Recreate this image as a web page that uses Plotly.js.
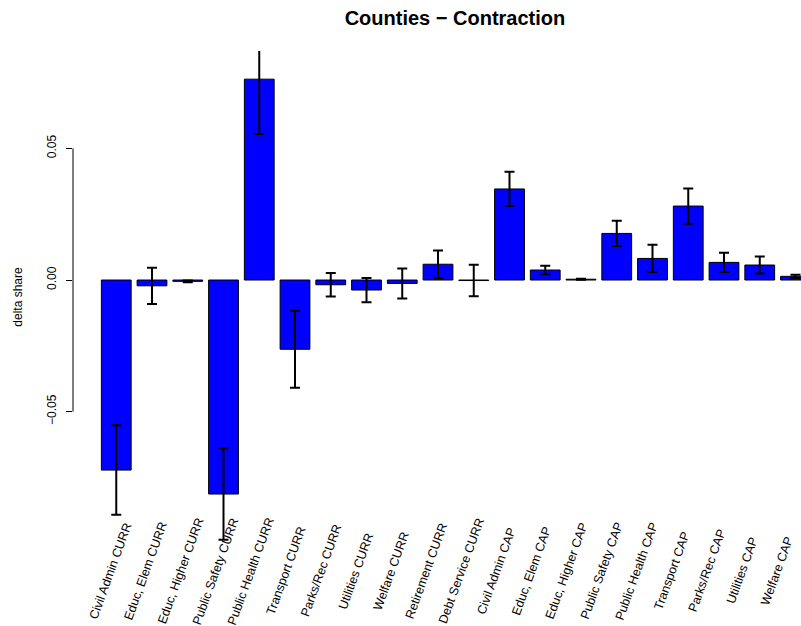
<!DOCTYPE html>
<html>
<head>
<meta charset="utf-8">
<script src="https://cdn.plot.ly/plotly-3.0.1.min.js"></script>
<style>
  html, body { margin: 0; padding: 0; background: #ffffff; }
  #chart { width: 801px; height: 626px; }
</style>
</head>
<body>
<div id="chart"></div>
<script>
// Spending categories (current and capital accounts)
const categories = [
  "Civil Admin CURR", "Educ, Elem CURR", "Educ, Higher CURR", "Public Safety CURR",
  "Public Health CURR", "Transport CURR", "Parks/Rec CURR", "Utilities CURR",
  "Welfare CURR", "Retirement CURR", "Debt Service CURR",
  "Civil Admin CAP", "Educ, Elem CAP", "Educ, Higher CAP", "Public Safety CAP",
  "Public Health CAP", "Transport CAP", "Parks/Rec CAP", "Utilities CAP", "Welfare CAP"
];

// Change in budget share during contraction
const deltaShare = [
  -0.0722, -0.0022, -0.0005, -0.0813, 0.0763, -0.0263, -0.0018, -0.0038,
  -0.0013, 0.0060, -0.0002,
  0.0346, 0.0038, 0.0003, 0.0177, 0.0082, 0.0281, 0.0067, 0.0057, 0.0014
];

// Half-width of the interval drawn around each bar
const errorHalf = [
  0.0170, 0.0069, 0.0003, 0.0174, 0.0208, 0.0146, 0.0045, 0.0046,
  0.0057, 0.0052, 0.0060,
  0.0065, 0.0016, 0.0002, 0.0048, 0.0052, 0.0067, 0.0037, 0.0032, 0.0006
];

// Y axis tick values
const yTicks = [-0.05, 0.00, 0.05];

const FONT = "Liberation Sans, Arial, Helvetica, sans-serif";

const trace = {
  type: "bar",
  x: categories,
  y: deltaShare,
  marker: { color: "#0000ff", line: { color: "#000000", width: 1 } },
  error_y: {
    type: "data",
    array: errorHalf,
    arrayminus: errorHalf,
    symmetric: false,
    color: "#000000",
    thickness: 2,
    width: 5
  },
  hoverinfo: "x+y"
};

// Rotated category labels under the bars
const labelAnnotations = categories.map((name, i) => ({
  x: name,
  xref: "x",
  y: 0,
  yref: "paper",
  text: name,
  showarrow: false,
  textangle: -70,
  xanchor: "center",
  yanchor: "middle",
  xshift: -5.6 - 0.67 * i,
  yshift: -28,
  font: { family: FONT, size: 12.5, color: "#000000" }
}));

const layout = {
  width: 801,
  height: 626,
  margin: { l: 73, r: 0, t: 51, b: 83, pad: 0 },
  paper_bgcolor: "#ffffff",
  plot_bgcolor: "#ffffff",
  showlegend: false,
  bargap: 1 - 1 / 1.2,
  title: {
    text: "<b>Counties \u2212 Contraction</b>",
    font: { family: FONT, size: 20, color: "#000000" },
    x: 0.568,
    xref: "container",
    xanchor: "center",
    y: 1 - 18 / 626,
    yref: "container",
    yanchor: "middle"
  },
  xaxis: {
    type: "category",
    range: [-1.21, 19.154],
    showticklabels: false,
    showgrid: false,
    zeroline: false,
    showline: false,
    ticks: "",
    fixedrange: true
  },
  yaxis: {
    range: [-0.0999, 0.0870],
    tickmode: "array",
    tickvals: yTicks,
    tickformat: ".2f",
    tickangle: -90,
    ticks: "outside",
    ticklen: 6,
    tickwidth: 1,
    tickcolor: "#000000",
    ticklabelstandoff: 5,
    tickfont: { family: FONT, size: 12, color: "#000000" },
    showgrid: false,
    zeroline: false,
    showline: false,
    automargin: false,
    fixedrange: true,
    title: {
      text: "delta share",
      font: { family: FONT, size: 12, color: "#000000" },
      standoff: 20
    }
  },
  shapes: [{
    type: "line",
    xref: "paper",
    x0: 0, x1: 0,
    yref: "y",
    y0: Math.min(...yTicks),
    y1: Math.max(...yTicks),
    line: { color: "#000000", width: 1 }
  }],
  annotations: labelAnnotations
};

Plotly.newPlot("chart", [trace], layout, { displayModeBar: false, staticPlot: true });
</script>
</body>
</html>
